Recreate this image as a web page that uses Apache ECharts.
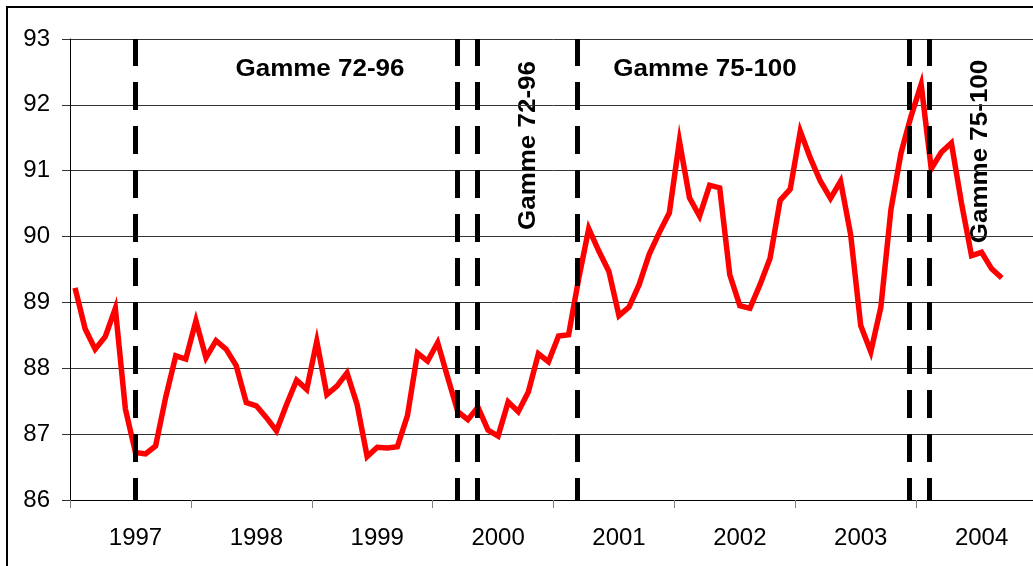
<!DOCTYPE html>
<html>
<head>
<meta charset="utf-8">
<script src="https://cdn.jsdelivr.net/npm/echarts@6/dist/echarts.min.js"></script>
<style>
html,body{margin:0;padding:0;background:#fff;overflow:hidden;width:1033px;height:566px;}
#chart{width:1037px;height:566px;}
</style>
</head>
<body>
<div id="chart"></div>
<script>
// Monthly categories: July 1996 .. June 2004
const startYear = 1996, startMonth = 7, nMonths = 96;
const categories = [];
for (let i = 0; i < nMonths; i++) {
  const m = (startMonth - 1 + i) % 12 + 1;
  const y = startYear + Math.floor((startMonth - 1 + i) / 12);
  categories.push(y + '-' + (m < 10 ? '0' + m : m));
}
// Series values
const values = [
  89.22, 88.60, 88.29, 88.48, 88.91, 87.38, 86.72, 86.70, 86.82, 87.56, 88.19, 88.14,
  88.72, 88.16, 88.42, 88.29, 88.04, 87.48, 87.43, 87.25, 87.05, 87.45, 87.82, 87.68,
  88.41, 87.60, 87.73, 87.93, 87.45, 86.66, 86.80, 86.79, 86.81, 87.28, 88.23, 88.11,
  88.39, 87.86, 87.34, 87.22, 87.41, 87.06, 86.97, 87.49, 87.34, 87.64, 88.22, 88.10,
  88.49, 88.51, 89.36, 90.12, 89.78, 89.47, 88.80, 88.93, 89.27, 89.73, 90.06, 90.36,
  91.45, 90.59, 90.31, 90.78, 90.74, 89.42, 88.95, 88.91, 89.27, 89.67, 90.55, 90.72,
  91.60, 91.19, 90.84, 90.58, 90.84, 90.03, 88.65, 88.25, 88.93, 90.41, 91.27, 91.83,
  92.31, 91.03, 91.28, 91.42, 90.51, 89.71, 89.76, 89.51, 89.37
];
// Range change boundaries (in months from start)
const breaks = [6.45, 38.45, 40.45, 50.35, 83.3, 85.3];
// Y axis
const yMin = 86, yMax = 93, yStep = 1;

const seriesData = values.map((v, i) => [i + 0.5, v]);
const tickValues = [];
const labelValues = [];
categories.forEach((c, i) => {
  if (c.endsWith('-07')) tickValues.push(i);
  if (c.endsWith('-01')) labelValues.push(i + 0.5);
});
tickValues.push(nMonths);

const FONT = "'Liberation Sans', Arial, sans-serif";
const BOLD = "bold 23px 'Liberation Sans', Arial, sans-serif";
const chart = echarts.init(document.getElementById('chart'), null, {renderer: 'canvas'});
chart.setOption({
  animation: false,
  backgroundColor: '#fff',
  grid: {left: 70, top: 39, right: 0, bottom: 66, containLabel: false},
  xAxis: {
    type: 'value', min: 0, max: nMonths,
    axisLine: {show: true, lineStyle: {color: '#000', width: 1}},
    axisTick: {show: true, customValues: tickValues, length: 8, lineStyle: {color: '#808080', width: 1}},
    axisLabel: {
      show: true, customValues: labelValues, margin: 26,
      fontFamily: FONT, fontSize: 24, color: '#000',
      formatter: v => categories[Math.floor(v)].slice(0, 4)
    },
    splitLine: {show: false}
  },
  yAxis: {
    type: 'value', min: yMin, max: yMax, interval: yStep,
    axisLine: {show: true, lineStyle: {color: '#000', width: 1}},
    axisTick: {show: true, length: 8, lineStyle: {color: '#333'}},
    axisLabel: {margin: 20, fontFamily: FONT, fontSize: 24, color: '#000'},
    splitLine: {show: true, lineStyle: {color: '#333', width: 1}}
  },
  series: [{
    type: 'line',
    data: seriesData,
    showSymbol: false,
    symbol: 'none',
    lineStyle: {color: '#ff0000', width: 5.5, join: 'miter'},
    z: 3,
    markLine: {
      silent: true,
      symbol: ['none', 'none'],
      label: {show: false},
      lineStyle: {color: '#000', width: 5, type: [28, 16], dashOffset: 6},
      data: breaks.map(b => ({xAxis: b}))
    }
  }],
  graphic: [
    {type: 'rect', shape: {x: 7, y: 7, width: 1060, height: 620}, style: {fill: 'none', stroke: '#000', lineWidth: 2}, silent: true},
    {type: 'text', x: 320, y: 70, scaleX: 1.13, style: {text: 'Gamme 72-96', font: BOLD, fill: '#000', textAlign: 'center', textVerticalAlign: 'middle'}},
    {type: 'text', x: 705, y: 70, scaleX: 1.13, style: {text: 'Gamme 75-100', font: BOLD, fill: '#000', textAlign: 'center', textVerticalAlign: 'middle'}},
    {type: 'text', x: 529, y: 145.5, rotation: Math.PI / 2, scaleX: 1.13, style: {text: 'Gamme 72-96', font: BOLD, fill: '#000', textAlign: 'center', textVerticalAlign: 'middle'}},
    {type: 'text', x: 981, y: 151.5, rotation: Math.PI / 2, scaleX: 1.13, style: {text: 'Gamme 75-100', font: BOLD, fill: '#000', textAlign: 'center', textVerticalAlign: 'middle'}}
  ]
});
</script>
</body>
</html>
